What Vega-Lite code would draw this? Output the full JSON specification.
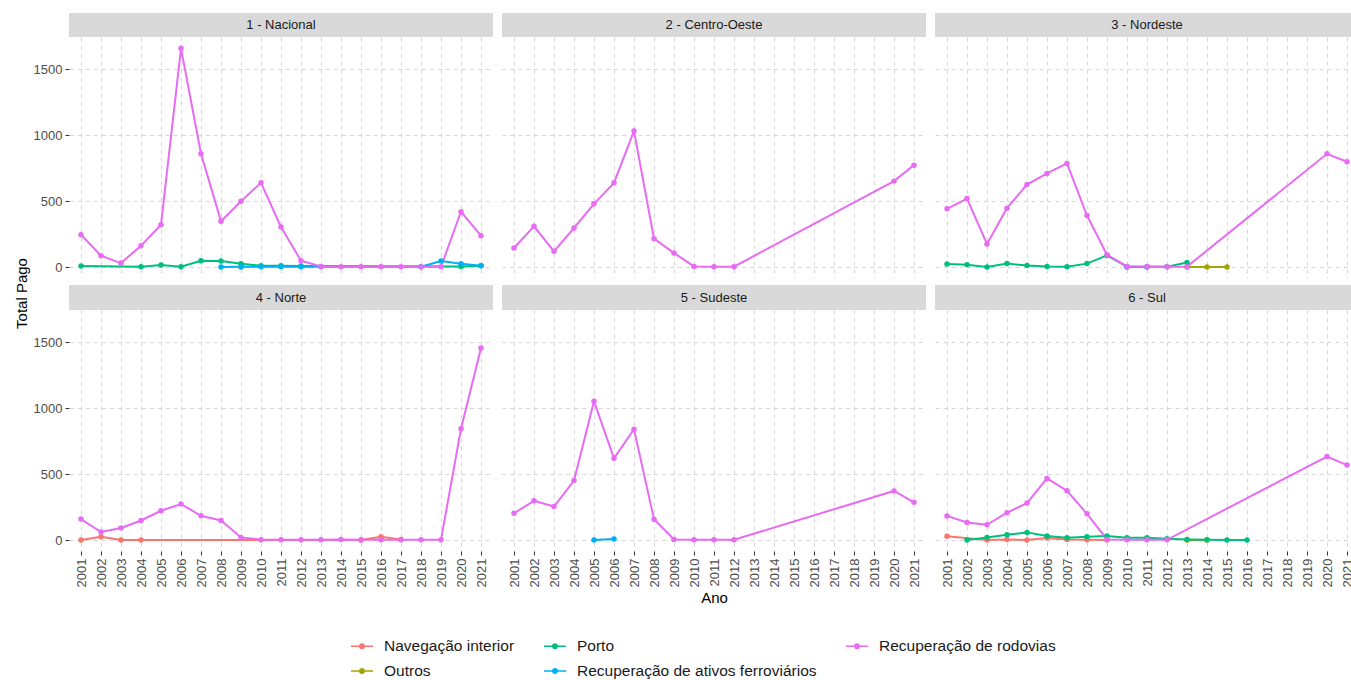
{
  "$schema": "https://vega.github.io/schema/vega-lite/v6.json",
  "background": "white",
  "padding": {"left": 15, "top": 13, "right": 0, "bottom": 0},
  "title": {"text": "Total Pago", "orient": "left", "anchor": "middle", "font": "Liberation Sans", "fontSize": 15, "fontWeight": "normal", "color": "#000000", "offset": 3, "dx": 53},
  "datasets": {
    "pago": [
      {"regiao": "1 - Nacional", "tipo": "Outros", "ano": 2009, "total": 0},
      {"regiao": "1 - Nacional", "tipo": "Porto", "ano": 2001, "total": 8},
      {"regiao": "1 - Nacional", "tipo": "Porto", "ano": 2004, "total": 3},
      {"regiao": "1 - Nacional", "tipo": "Porto", "ano": 2005, "total": 15},
      {"regiao": "1 - Nacional", "tipo": "Porto", "ano": 2006, "total": 2},
      {"regiao": "1 - Nacional", "tipo": "Porto", "ano": 2007, "total": 48},
      {"regiao": "1 - Nacional", "tipo": "Porto", "ano": 2008, "total": 45},
      {"regiao": "1 - Nacional", "tipo": "Porto", "ano": 2009, "total": 25},
      {"regiao": "1 - Nacional", "tipo": "Porto", "ano": 2010, "total": 10},
      {"regiao": "1 - Nacional", "tipo": "Porto", "ano": 2011, "total": 10},
      {"regiao": "1 - Nacional", "tipo": "Porto", "ano": 2012, "total": 8},
      {"regiao": "1 - Nacional", "tipo": "Porto", "ano": 2020, "total": 5},
      {"regiao": "1 - Nacional", "tipo": "Porto", "ano": 2021, "total": 10},
      {"regiao": "1 - Nacional", "tipo": "Recuperação de ativos ferroviários", "ano": 2008, "total": 0},
      {"regiao": "1 - Nacional", "tipo": "Recuperação de ativos ferroviários", "ano": 2009, "total": 2},
      {"regiao": "1 - Nacional", "tipo": "Recuperação de ativos ferroviários", "ano": 2010, "total": 3},
      {"regiao": "1 - Nacional", "tipo": "Recuperação de ativos ferroviários", "ano": 2011, "total": 3},
      {"regiao": "1 - Nacional", "tipo": "Recuperação de ativos ferroviários", "ano": 2012, "total": 3},
      {"regiao": "1 - Nacional", "tipo": "Recuperação de ativos ferroviários", "ano": 2013, "total": 3},
      {"regiao": "1 - Nacional", "tipo": "Recuperação de ativos ferroviários", "ano": 2018, "total": 2},
      {"regiao": "1 - Nacional", "tipo": "Recuperação de ativos ferroviários", "ano": 2019, "total": 45},
      {"regiao": "1 - Nacional", "tipo": "Recuperação de ativos ferroviários", "ano": 2020, "total": 25},
      {"regiao": "1 - Nacional", "tipo": "Recuperação de ativos ferroviários", "ano": 2021, "total": 10},
      {"regiao": "1 - Nacional", "tipo": "Recuperação de rodovias", "ano": 2001, "total": 245},
      {"regiao": "1 - Nacional", "tipo": "Recuperação de rodovias", "ano": 2002, "total": 86},
      {"regiao": "1 - Nacional", "tipo": "Recuperação de rodovias", "ano": 2003, "total": 30},
      {"regiao": "1 - Nacional", "tipo": "Recuperação de rodovias", "ano": 2004, "total": 162},
      {"regiao": "1 - Nacional", "tipo": "Recuperação de rodovias", "ano": 2005, "total": 321},
      {"regiao": "1 - Nacional", "tipo": "Recuperação de rodovias", "ano": 2006, "total": 1657},
      {"regiao": "1 - Nacional", "tipo": "Recuperação de rodovias", "ano": 2007, "total": 858},
      {"regiao": "1 - Nacional", "tipo": "Recuperação de rodovias", "ano": 2008, "total": 347},
      {"regiao": "1 - Nacional", "tipo": "Recuperação de rodovias", "ano": 2009, "total": 499},
      {"regiao": "1 - Nacional", "tipo": "Recuperação de rodovias", "ano": 2010, "total": 638},
      {"regiao": "1 - Nacional", "tipo": "Recuperação de rodovias", "ano": 2011, "total": 304},
      {"regiao": "1 - Nacional", "tipo": "Recuperação de rodovias", "ano": 2012, "total": 48},
      {"regiao": "1 - Nacional", "tipo": "Recuperação de rodovias", "ano": 2013, "total": 5},
      {"regiao": "1 - Nacional", "tipo": "Recuperação de rodovias", "ano": 2014, "total": 3},
      {"regiao": "1 - Nacional", "tipo": "Recuperação de rodovias", "ano": 2015, "total": 2},
      {"regiao": "1 - Nacional", "tipo": "Recuperação de rodovias", "ano": 2016, "total": 2},
      {"regiao": "1 - Nacional", "tipo": "Recuperação de rodovias", "ano": 2017, "total": 2},
      {"regiao": "1 - Nacional", "tipo": "Recuperação de rodovias", "ano": 2018, "total": 2},
      {"regiao": "1 - Nacional", "tipo": "Recuperação de rodovias", "ano": 2019, "total": 2},
      {"regiao": "1 - Nacional", "tipo": "Recuperação de rodovias", "ano": 2020, "total": 419},
      {"regiao": "1 - Nacional", "tipo": "Recuperação de rodovias", "ano": 2021, "total": 238},

      {"regiao": "2 - Centro-Oeste", "tipo": "Recuperação de rodovias", "ano": 2001, "total": 144},
      {"regiao": "2 - Centro-Oeste", "tipo": "Recuperação de rodovias", "ano": 2002, "total": 309},
      {"regiao": "2 - Centro-Oeste", "tipo": "Recuperação de rodovias", "ano": 2003, "total": 119},
      {"regiao": "2 - Centro-Oeste", "tipo": "Recuperação de rodovias", "ano": 2004, "total": 296},
      {"regiao": "2 - Centro-Oeste", "tipo": "Recuperação de rodovias", "ano": 2005, "total": 479},
      {"regiao": "2 - Centro-Oeste", "tipo": "Recuperação de rodovias", "ano": 2006, "total": 638},
      {"regiao": "2 - Centro-Oeste", "tipo": "Recuperação de rodovias", "ano": 2007, "total": 1031},
      {"regiao": "2 - Centro-Oeste", "tipo": "Recuperação de rodovias", "ano": 2008, "total": 215},
      {"regiao": "2 - Centro-Oeste", "tipo": "Recuperação de rodovias", "ano": 2009, "total": 106},
      {"regiao": "2 - Centro-Oeste", "tipo": "Recuperação de rodovias", "ano": 2010, "total": 5},
      {"regiao": "2 - Centro-Oeste", "tipo": "Recuperação de rodovias", "ano": 2011, "total": 3},
      {"regiao": "2 - Centro-Oeste", "tipo": "Recuperação de rodovias", "ano": 2012, "total": 3},
      {"regiao": "2 - Centro-Oeste", "tipo": "Recuperação de rodovias", "ano": 2020, "total": 651},
      {"regiao": "2 - Centro-Oeste", "tipo": "Recuperação de rodovias", "ano": 2021, "total": 772},

      {"regiao": "3 - Nordeste", "tipo": "Outros", "ano": 2013, "total": 0},
      {"regiao": "3 - Nordeste", "tipo": "Outros", "ano": 2014, "total": 0},
      {"regiao": "3 - Nordeste", "tipo": "Outros", "ano": 2015, "total": 0},
      {"regiao": "3 - Nordeste", "tipo": "Porto", "ano": 2001, "total": 23},
      {"regiao": "3 - Nordeste", "tipo": "Porto", "ano": 2002, "total": 17},
      {"regiao": "3 - Nordeste", "tipo": "Porto", "ano": 2003, "total": 0},
      {"regiao": "3 - Nordeste", "tipo": "Porto", "ano": 2004, "total": 26},
      {"regiao": "3 - Nordeste", "tipo": "Porto", "ano": 2005, "total": 12},
      {"regiao": "3 - Nordeste", "tipo": "Porto", "ano": 2006, "total": 4},
      {"regiao": "3 - Nordeste", "tipo": "Porto", "ano": 2007, "total": 3},
      {"regiao": "3 - Nordeste", "tipo": "Porto", "ano": 2008, "total": 26},
      {"regiao": "3 - Nordeste", "tipo": "Porto", "ano": 2009, "total": 88},
      {"regiao": "3 - Nordeste", "tipo": "Porto", "ano": 2010, "total": 3},
      {"regiao": "3 - Nordeste", "tipo": "Porto", "ano": 2011, "total": 3},
      {"regiao": "3 - Nordeste", "tipo": "Porto", "ano": 2012, "total": 3},
      {"regiao": "3 - Nordeste", "tipo": "Porto", "ano": 2013, "total": 35},
      {"regiao": "3 - Nordeste", "tipo": "Recuperação de ativos ferroviários", "ano": 2010, "total": 0},
      {"regiao": "3 - Nordeste", "tipo": "Recuperação de ativos ferroviários", "ano": 2011, "total": 0},
      {"regiao": "3 - Nordeste", "tipo": "Recuperação de rodovias", "ano": 2001, "total": 441},
      {"regiao": "3 - Nordeste", "tipo": "Recuperação de rodovias", "ano": 2002, "total": 519},
      {"regiao": "3 - Nordeste", "tipo": "Recuperação de rodovias", "ano": 2003, "total": 175},
      {"regiao": "3 - Nordeste", "tipo": "Recuperação de rodovias", "ano": 2004, "total": 446},
      {"regiao": "3 - Nordeste", "tipo": "Recuperação de rodovias", "ano": 2005, "total": 625},
      {"regiao": "3 - Nordeste", "tipo": "Recuperação de rodovias", "ano": 2006, "total": 709},
      {"regiao": "3 - Nordeste", "tipo": "Recuperação de rodovias", "ano": 2007, "total": 785},
      {"regiao": "3 - Nordeste", "tipo": "Recuperação de rodovias", "ano": 2008, "total": 390},
      {"regiao": "3 - Nordeste", "tipo": "Recuperação de rodovias", "ano": 2009, "total": 93},
      {"regiao": "3 - Nordeste", "tipo": "Recuperação de rodovias", "ano": 2010, "total": 5},
      {"regiao": "3 - Nordeste", "tipo": "Recuperação de rodovias", "ano": 2011, "total": 5},
      {"regiao": "3 - Nordeste", "tipo": "Recuperação de rodovias", "ano": 2012, "total": 3},
      {"regiao": "3 - Nordeste", "tipo": "Recuperação de rodovias", "ano": 2013, "total": 3},
      {"regiao": "3 - Nordeste", "tipo": "Recuperação de rodovias", "ano": 2020, "total": 858},
      {"regiao": "3 - Nordeste", "tipo": "Recuperação de rodovias", "ano": 2021, "total": 798},

      {"regiao": "4 - Norte", "tipo": "Navegação interior", "ano": 2001, "total": 0},
      {"regiao": "4 - Norte", "tipo": "Navegação interior", "ano": 2002, "total": 25},
      {"regiao": "4 - Norte", "tipo": "Navegação interior", "ano": 2003, "total": 0},
      {"regiao": "4 - Norte", "tipo": "Navegação interior", "ano": 2004, "total": 0},
      {"regiao": "4 - Norte", "tipo": "Navegação interior", "ano": 2015, "total": 0},
      {"regiao": "4 - Norte", "tipo": "Navegação interior", "ano": 2016, "total": 25},
      {"regiao": "4 - Norte", "tipo": "Navegação interior", "ano": 2017, "total": 5},
      {"regiao": "4 - Norte", "tipo": "Recuperação de rodovias", "ano": 2001, "total": 159},
      {"regiao": "4 - Norte", "tipo": "Recuperação de rodovias", "ano": 2002, "total": 61},
      {"regiao": "4 - Norte", "tipo": "Recuperação de rodovias", "ano": 2003, "total": 91},
      {"regiao": "4 - Norte", "tipo": "Recuperação de rodovias", "ano": 2004, "total": 148},
      {"regiao": "4 - Norte", "tipo": "Recuperação de rodovias", "ano": 2005, "total": 222},
      {"regiao": "4 - Norte", "tipo": "Recuperação de rodovias", "ano": 2006, "total": 273},
      {"regiao": "4 - Norte", "tipo": "Recuperação de rodovias", "ano": 2007, "total": 184},
      {"regiao": "4 - Norte", "tipo": "Recuperação de rodovias", "ano": 2008, "total": 148},
      {"regiao": "4 - Norte", "tipo": "Recuperação de rodovias", "ano": 2009, "total": 20},
      {"regiao": "4 - Norte", "tipo": "Recuperação de rodovias", "ano": 2010, "total": 3},
      {"regiao": "4 - Norte", "tipo": "Recuperação de rodovias", "ano": 2011, "total": 2},
      {"regiao": "4 - Norte", "tipo": "Recuperação de rodovias", "ano": 2012, "total": 2},
      {"regiao": "4 - Norte", "tipo": "Recuperação de rodovias", "ano": 2013, "total": 2},
      {"regiao": "4 - Norte", "tipo": "Recuperação de rodovias", "ano": 2014, "total": 5},
      {"regiao": "4 - Norte", "tipo": "Recuperação de rodovias", "ano": 2015, "total": 2},
      {"regiao": "4 - Norte", "tipo": "Recuperação de rodovias", "ano": 2016, "total": 3},
      {"regiao": "4 - Norte", "tipo": "Recuperação de rodovias", "ano": 2017, "total": 3},
      {"regiao": "4 - Norte", "tipo": "Recuperação de rodovias", "ano": 2018, "total": 2},
      {"regiao": "4 - Norte", "tipo": "Recuperação de rodovias", "ano": 2019, "total": 2},
      {"regiao": "4 - Norte", "tipo": "Recuperação de rodovias", "ano": 2020, "total": 843},
      {"regiao": "4 - Norte", "tipo": "Recuperação de rodovias", "ano": 2021, "total": 1455},

      {"regiao": "5 - Sudeste", "tipo": "Recuperação de ativos ferroviários", "ano": 2005, "total": 0},
      {"regiao": "5 - Sudeste", "tipo": "Recuperação de ativos ferroviários", "ano": 2006, "total": 8},
      {"regiao": "5 - Sudeste", "tipo": "Recuperação de rodovias", "ano": 2001, "total": 203},
      {"regiao": "5 - Sudeste", "tipo": "Recuperação de rodovias", "ano": 2002, "total": 297},
      {"regiao": "5 - Sudeste", "tipo": "Recuperação de rodovias", "ano": 2003, "total": 254},
      {"regiao": "5 - Sudeste", "tipo": "Recuperação de rodovias", "ano": 2004, "total": 451},
      {"regiao": "5 - Sudeste", "tipo": "Recuperação de rodovias", "ano": 2005, "total": 1051},
      {"regiao": "5 - Sudeste", "tipo": "Recuperação de rodovias", "ano": 2006, "total": 620},
      {"regiao": "5 - Sudeste", "tipo": "Recuperação de rodovias", "ano": 2007, "total": 840},
      {"regiao": "5 - Sudeste", "tipo": "Recuperação de rodovias", "ano": 2008, "total": 157},
      {"regiao": "5 - Sudeste", "tipo": "Recuperação de rodovias", "ano": 2009, "total": 5},
      {"regiao": "5 - Sudeste", "tipo": "Recuperação de rodovias", "ano": 2010, "total": 2},
      {"regiao": "5 - Sudeste", "tipo": "Recuperação de rodovias", "ano": 2011, "total": 2},
      {"regiao": "5 - Sudeste", "tipo": "Recuperação de rodovias", "ano": 2012, "total": 2},
      {"regiao": "5 - Sudeste", "tipo": "Recuperação de rodovias", "ano": 2020, "total": 372},
      {"regiao": "5 - Sudeste", "tipo": "Recuperação de rodovias", "ano": 2021, "total": 286},

      {"regiao": "6 - Sul", "tipo": "Navegação interior", "ano": 2001, "total": 28},
      {"regiao": "6 - Sul", "tipo": "Navegação interior", "ano": 2003, "total": 0},
      {"regiao": "6 - Sul", "tipo": "Navegação interior", "ano": 2004, "total": 5},
      {"regiao": "6 - Sul", "tipo": "Navegação interior", "ano": 2005, "total": 0},
      {"regiao": "6 - Sul", "tipo": "Navegação interior", "ano": 2006, "total": 15},
      {"regiao": "6 - Sul", "tipo": "Navegação interior", "ano": 2007, "total": 5},
      {"regiao": "6 - Sul", "tipo": "Navegação interior", "ano": 2008, "total": 3},
      {"regiao": "6 - Sul", "tipo": "Navegação interior", "ano": 2009, "total": 0},
      {"regiao": "6 - Sul", "tipo": "Outros", "ano": 2013, "total": 0},
      {"regiao": "6 - Sul", "tipo": "Outros", "ano": 2014, "total": 0},
      {"regiao": "6 - Sul", "tipo": "Porto", "ano": 2002, "total": 0},
      {"regiao": "6 - Sul", "tipo": "Porto", "ano": 2003, "total": 20},
      {"regiao": "6 - Sul", "tipo": "Porto", "ano": 2004, "total": 40},
      {"regiao": "6 - Sul", "tipo": "Porto", "ano": 2005, "total": 58},
      {"regiao": "6 - Sul", "tipo": "Porto", "ano": 2006, "total": 30},
      {"regiao": "6 - Sul", "tipo": "Porto", "ano": 2007, "total": 18},
      {"regiao": "6 - Sul", "tipo": "Porto", "ano": 2008, "total": 25},
      {"regiao": "6 - Sul", "tipo": "Porto", "ano": 2009, "total": 30},
      {"regiao": "6 - Sul", "tipo": "Porto", "ano": 2010, "total": 18},
      {"regiao": "6 - Sul", "tipo": "Porto", "ano": 2011, "total": 18},
      {"regiao": "6 - Sul", "tipo": "Porto", "ano": 2012, "total": 10},
      {"regiao": "6 - Sul", "tipo": "Porto", "ano": 2013, "total": 5},
      {"regiao": "6 - Sul", "tipo": "Porto", "ano": 2014, "total": 2},
      {"regiao": "6 - Sul", "tipo": "Porto", "ano": 2015, "total": 0},
      {"regiao": "6 - Sul", "tipo": "Porto", "ano": 2016, "total": 0},
      {"regiao": "6 - Sul", "tipo": "Recuperação de rodovias", "ano": 2001, "total": 183},
      {"regiao": "6 - Sul", "tipo": "Recuperação de rodovias", "ano": 2002, "total": 133},
      {"regiao": "6 - Sul", "tipo": "Recuperação de rodovias", "ano": 2003, "total": 116},
      {"regiao": "6 - Sul", "tipo": "Recuperação de rodovias", "ano": 2004, "total": 207},
      {"regiao": "6 - Sul", "tipo": "Recuperação de rodovias", "ano": 2005, "total": 280},
      {"regiao": "6 - Sul", "tipo": "Recuperação de rodovias", "ano": 2006, "total": 467},
      {"regiao": "6 - Sul", "tipo": "Recuperação de rodovias", "ano": 2007, "total": 373},
      {"regiao": "6 - Sul", "tipo": "Recuperação de rodovias", "ano": 2008, "total": 199},
      {"regiao": "6 - Sul", "tipo": "Recuperação de rodovias", "ano": 2009, "total": 5},
      {"regiao": "6 - Sul", "tipo": "Recuperação de rodovias", "ano": 2010, "total": 2},
      {"regiao": "6 - Sul", "tipo": "Recuperação de rodovias", "ano": 2011, "total": 2},
      {"regiao": "6 - Sul", "tipo": "Recuperação de rodovias", "ano": 2012, "total": 2},
      {"regiao": "6 - Sul", "tipo": "Recuperação de rodovias", "ano": 2020, "total": 633},
      {"regiao": "6 - Sul", "tipo": "Recuperação de rodovias", "ano": 2021, "total": 568}
    ]
  },
  "spacing": 7,
  "vconcat": [
    {
      "columns": 3,
      "bounds": "flush",
      "spacing": {"row": 0, "column": 9},
      "concat": [
        {"width": 424, "height": 24, "view": {"fill": "#d9d9d9", "stroke": null},
         "data": {"values": [{"regiao": "1 - Nacional"}]},
         "mark": {"type": "text", "fontSize": 13, "color": "#1a1a1a"},
         "encoding": {"text": {"field": "regiao"}}},
        {"width": 424, "height": 24, "view": {"fill": "#d9d9d9", "stroke": null},
         "data": {"values": [{"regiao": "2 - Centro-Oeste"}]},
         "mark": {"type": "text", "fontSize": 13, "color": "#1a1a1a"},
         "encoding": {"text": {"field": "regiao"}}},
        {"width": 424, "height": 24, "view": {"fill": "#d9d9d9", "stroke": null},
         "data": {"values": [{"regiao": "3 - Nordeste"}]},
         "mark": {"type": "text", "fontSize": 13, "color": "#1a1a1a"},
         "encoding": {"text": {"field": "regiao"}}},
        {"width": 424, "height": 241, "data": {"name": "pago"},
         "transform": [{"filter": "datum.regiao === '1 - Nacional'"}],
         "encoding": {
           "x": {"field": "ano", "type": "ordinal", "scale": {"type": "point", "padding": 0.6, "domain": [2001,2002,2003,2004,2005,2006,2007,2008,2009,2010,2011,2012,2013,2014,2015,2016,2017,2018,2019,2020,2021]}, "axis": {"labels": false, "ticks": false, "title": null}},
           "y": {"field": "total", "type": "quantitative", "scale": {"domain": [-83, 1743], "nice": false, "zero": false}, "axis": {"values": [0, 500, 1000, 1500], "format": "d", "title": null}},
           "color": {"field": "tipo", "type": "nominal",
             "scale": {"domain": ["Navegação interior", "Outros", "Porto", "Recuperação de ativos ferroviários", "Recuperação de rodovias"], "range": ["#F8766D", "#A3A500", "#00BF7D", "#00B0F6", "#E76BF3"]},
             "legend": {"title": null, "orient": "none", "legendX": 281, "legendY": 621, "columns": 3, "padding": 0,
               "symbolType": "M-1,0H1M-0.2,0A0.2,0.2 0 1,0 0.2,0A0.2,0.2 0 1,0 -0.2,0Z", "symbolSize": 484, "symbolStrokeWidth": 1.5,
               "labelFontSize": 15.5, "labelColor": "#1a1a1a", "labelOffset": 10, "columnPadding": 26, "rowPadding": 4, "labelLimit": 400,
               "encode": {"symbols": {"update": {"fill": {"scale": "color", "field": "value"}, "stroke": {"scale": "color", "field": "value"}, "opacity": {"value": 1}}}}}}
         },
         "layer": [
           {"mark": {"type": "line", "strokeWidth": 2}},
           {"mark": {"type": "point", "filled": true, "size": 30, "opacity": 1}}
         ]},
        {"width": 424, "height": 241, "data": {"name": "pago"},
         "transform": [{"filter": "datum.regiao === '2 - Centro-Oeste'"}],
         "encoding": {
           "x": {"field": "ano", "type": "ordinal", "scale": {"type": "point", "padding": 0.6, "domain": [2001,2002,2003,2004,2005,2006,2007,2008,2009,2010,2011,2012,2013,2014,2015,2016,2017,2018,2019,2020,2021]}, "axis": {"labels": false, "ticks": false, "title": null}},
           "y": {"field": "total", "type": "quantitative", "scale": {"domain": [-83, 1743], "nice": false, "zero": false}, "axis": {"values": [0, 500, 1000, 1500], "labels": false, "ticks": false, "title": null}},
           "color": {"field": "tipo", "type": "nominal",
             "scale": {"domain": ["Navegação interior", "Outros", "Porto", "Recuperação de ativos ferroviários", "Recuperação de rodovias"], "range": ["#F8766D", "#A3A500", "#00BF7D", "#00B0F6", "#E76BF3"]},
             "legend": {"title": null, "orient": "none", "legendX": 281, "legendY": 621, "columns": 3, "padding": 0,
               "symbolType": "M-1,0H1M-0.2,0A0.2,0.2 0 1,0 0.2,0A0.2,0.2 0 1,0 -0.2,0Z", "symbolSize": 484, "symbolStrokeWidth": 1.5,
               "labelFontSize": 15.5, "labelColor": "#1a1a1a", "labelOffset": 10, "columnPadding": 26, "rowPadding": 4, "labelLimit": 400,
               "encode": {"symbols": {"update": {"fill": {"scale": "color", "field": "value"}, "stroke": {"scale": "color", "field": "value"}, "opacity": {"value": 1}}}}}}
         },
         "layer": [
           {"mark": {"type": "line", "strokeWidth": 2}},
           {"mark": {"type": "point", "filled": true, "size": 30, "opacity": 1}}
         ]},
        {"width": 424, "height": 241, "data": {"name": "pago"},
         "transform": [{"filter": "datum.regiao === '3 - Nordeste'"}],
         "encoding": {
           "x": {"field": "ano", "type": "ordinal", "scale": {"type": "point", "padding": 0.6, "domain": [2001,2002,2003,2004,2005,2006,2007,2008,2009,2010,2011,2012,2013,2014,2015,2016,2017,2018,2019,2020,2021]}, "axis": {"labels": false, "ticks": false, "title": null}},
           "y": {"field": "total", "type": "quantitative", "scale": {"domain": [-83, 1743], "nice": false, "zero": false}, "axis": {"values": [0, 500, 1000, 1500], "labels": false, "ticks": false, "title": null}},
           "color": {"field": "tipo", "type": "nominal",
             "scale": {"domain": ["Navegação interior", "Outros", "Porto", "Recuperação de ativos ferroviários", "Recuperação de rodovias"], "range": ["#F8766D", "#A3A500", "#00BF7D", "#00B0F6", "#E76BF3"]},
             "legend": {"title": null, "orient": "none", "legendX": 281, "legendY": 621, "columns": 3, "padding": 0,
               "symbolType": "M-1,0H1M-0.2,0A0.2,0.2 0 1,0 0.2,0A0.2,0.2 0 1,0 -0.2,0Z", "symbolSize": 484, "symbolStrokeWidth": 1.5,
               "labelFontSize": 15.5, "labelColor": "#1a1a1a", "labelOffset": 10, "columnPadding": 26, "rowPadding": 4, "labelLimit": 400,
               "encode": {"symbols": {"update": {"fill": {"scale": "color", "field": "value"}, "stroke": {"scale": "color", "field": "value"}, "opacity": {"value": 1}}}}}}
         },
         "layer": [
           {"mark": {"type": "line", "strokeWidth": 2}},
           {"mark": {"type": "point", "filled": true, "size": 30, "opacity": 1}}
         ]}
      ]
    },
    {
      "columns": 3,
      "bounds": "flush",
      "spacing": {"row": 0, "column": 9},
      "concat": [
        {"width": 424, "height": 25, "view": {"fill": "#d9d9d9", "stroke": null},
         "data": {"values": [{"regiao": "4 - Norte"}]},
         "mark": {"type": "text", "fontSize": 13, "color": "#1a1a1a"},
         "encoding": {"text": {"field": "regiao"}}},
        {"width": 424, "height": 25, "view": {"fill": "#d9d9d9", "stroke": null},
         "data": {"values": [{"regiao": "5 - Sudeste"}]},
         "mark": {"type": "text", "fontSize": 13, "color": "#1a1a1a"},
         "encoding": {"text": {"field": "regiao"}}},
        {"width": 424, "height": 25, "view": {"fill": "#d9d9d9", "stroke": null},
         "data": {"values": [{"regiao": "6 - Sul"}]},
         "mark": {"type": "text", "fontSize": 13, "color": "#1a1a1a"},
         "encoding": {"text": {"field": "regiao"}}},
        {"width": 424, "height": 241, "data": {"name": "pago"},
         "transform": [{"filter": "datum.regiao === '4 - Norte'"}],
         "encoding": {
           "x": {"field": "ano", "type": "ordinal", "scale": {"type": "point", "padding": 0.6, "domain": [2001,2002,2003,2004,2005,2006,2007,2008,2009,2010,2011,2012,2013,2014,2015,2016,2017,2018,2019,2020,2021]}, "axis": {"labelAngle": 270, "labelAlign": "right", "labelBaseline": "middle", "title": null}},
           "y": {"field": "total", "type": "quantitative", "scale": {"domain": [-83, 1743], "nice": false, "zero": false}, "axis": {"values": [0, 500, 1000, 1500], "format": "d", "title": null}},
           "color": {"field": "tipo", "type": "nominal",
             "scale": {"domain": ["Navegação interior", "Outros", "Porto", "Recuperação de ativos ferroviários", "Recuperação de rodovias"], "range": ["#F8766D", "#A3A500", "#00BF7D", "#00B0F6", "#E76BF3"]},
             "legend": {"title": null, "orient": "none", "legendX": 281, "legendY": 621, "columns": 3, "padding": 0,
               "symbolType": "M-1,0H1M-0.2,0A0.2,0.2 0 1,0 0.2,0A0.2,0.2 0 1,0 -0.2,0Z", "symbolSize": 484, "symbolStrokeWidth": 1.5,
               "labelFontSize": 15.5, "labelColor": "#1a1a1a", "labelOffset": 10, "columnPadding": 26, "rowPadding": 4, "labelLimit": 400,
               "encode": {"symbols": {"update": {"fill": {"scale": "color", "field": "value"}, "stroke": {"scale": "color", "field": "value"}, "opacity": {"value": 1}}}}}}
         },
         "layer": [
           {"mark": {"type": "line", "strokeWidth": 2}},
           {"mark": {"type": "point", "filled": true, "size": 30, "opacity": 1}}
         ]},
        {"width": 424, "height": 241, "data": {"name": "pago"},
         "transform": [{"filter": "datum.regiao === '5 - Sudeste'"}],
         "encoding": {
           "x": {"field": "ano", "type": "ordinal", "scale": {"type": "point", "padding": 0.6, "domain": [2001,2002,2003,2004,2005,2006,2007,2008,2009,2010,2011,2012,2013,2014,2015,2016,2017,2018,2019,2020,2021]}, "axis": {"labelAngle": 270, "labelAlign": "right", "labelBaseline": "middle", "title": "Ano", "titlePadding": 4}},
           "y": {"field": "total", "type": "quantitative", "scale": {"domain": [-83, 1743], "nice": false, "zero": false}, "axis": {"values": [0, 500, 1000, 1500], "labels": false, "ticks": false, "title": null}},
           "color": {"field": "tipo", "type": "nominal",
             "scale": {"domain": ["Navegação interior", "Outros", "Porto", "Recuperação de ativos ferroviários", "Recuperação de rodovias"], "range": ["#F8766D", "#A3A500", "#00BF7D", "#00B0F6", "#E76BF3"]},
             "legend": {"title": null, "orient": "none", "legendX": 281, "legendY": 621, "columns": 3, "padding": 0,
               "symbolType": "M-1,0H1M-0.2,0A0.2,0.2 0 1,0 0.2,0A0.2,0.2 0 1,0 -0.2,0Z", "symbolSize": 484, "symbolStrokeWidth": 1.5,
               "labelFontSize": 15.5, "labelColor": "#1a1a1a", "labelOffset": 10, "columnPadding": 26, "rowPadding": 4, "labelLimit": 400,
               "encode": {"symbols": {"update": {"fill": {"scale": "color", "field": "value"}, "stroke": {"scale": "color", "field": "value"}, "opacity": {"value": 1}}}}}}
         },
         "layer": [
           {"mark": {"type": "line", "strokeWidth": 2}},
           {"mark": {"type": "point", "filled": true, "size": 30, "opacity": 1}}
         ]},
        {"width": 424, "height": 241, "data": {"name": "pago"},
         "transform": [{"filter": "datum.regiao === '6 - Sul'"}],
         "encoding": {
           "x": {"field": "ano", "type": "ordinal", "scale": {"type": "point", "padding": 0.6, "domain": [2001,2002,2003,2004,2005,2006,2007,2008,2009,2010,2011,2012,2013,2014,2015,2016,2017,2018,2019,2020,2021]}, "axis": {"labelAngle": 270, "labelAlign": "right", "labelBaseline": "middle", "title": null}},
           "y": {"field": "total", "type": "quantitative", "scale": {"domain": [-83, 1743], "nice": false, "zero": false}, "axis": {"values": [0, 500, 1000, 1500], "labels": false, "ticks": false, "title": null}},
           "color": {"field": "tipo", "type": "nominal",
             "scale": {"domain": ["Navegação interior", "Outros", "Porto", "Recuperação de ativos ferroviários", "Recuperação de rodovias"], "range": ["#F8766D", "#A3A500", "#00BF7D", "#00B0F6", "#E76BF3"]},
             "legend": {"title": null, "orient": "none", "legendX": 281, "legendY": 621, "columns": 3, "padding": 0,
               "symbolType": "M-1,0H1M-0.2,0A0.2,0.2 0 1,0 0.2,0A0.2,0.2 0 1,0 -0.2,0Z", "symbolSize": 484, "symbolStrokeWidth": 1.5,
               "labelFontSize": 15.5, "labelColor": "#1a1a1a", "labelOffset": 10, "columnPadding": 26, "rowPadding": 4, "labelLimit": 400,
               "encode": {"symbols": {"update": {"fill": {"scale": "color", "field": "value"}, "stroke": {"scale": "color", "field": "value"}, "opacity": {"value": 1}}}}}}
         },
         "layer": [
           {"mark": {"type": "line", "strokeWidth": 2}},
           {"mark": {"type": "point", "filled": true, "size": 30, "opacity": 1}}
         ]}
      ]
    }
  ],
  "resolve": {"scale": {"color": "shared"}},
  "config": {
    "font": "Liberation Sans",
    "view": {"stroke": null},
    "axis": {
      "domain": false,
      "grid": true,
      "gridColor": "#cccccc",
      "gridDash": [4, 4],
      "gridWidth": 0.8,
      "tickColor": "#333333",
      "tickSize": 4,
      "tickWidth": 1,
      "labelColor": "#4d4d4d",
      "labelFont": "Liberation Sans",
      "labelFontSize": 13,
      "labelPadding": 3,
      "titleFont": "Liberation Sans",
      "titleFontSize": 15,
      "titleFontWeight": "normal",
      "titleColor": "#000000"
    },
    "legend": {"labelFont": "Liberation Sans"}
  }
}
